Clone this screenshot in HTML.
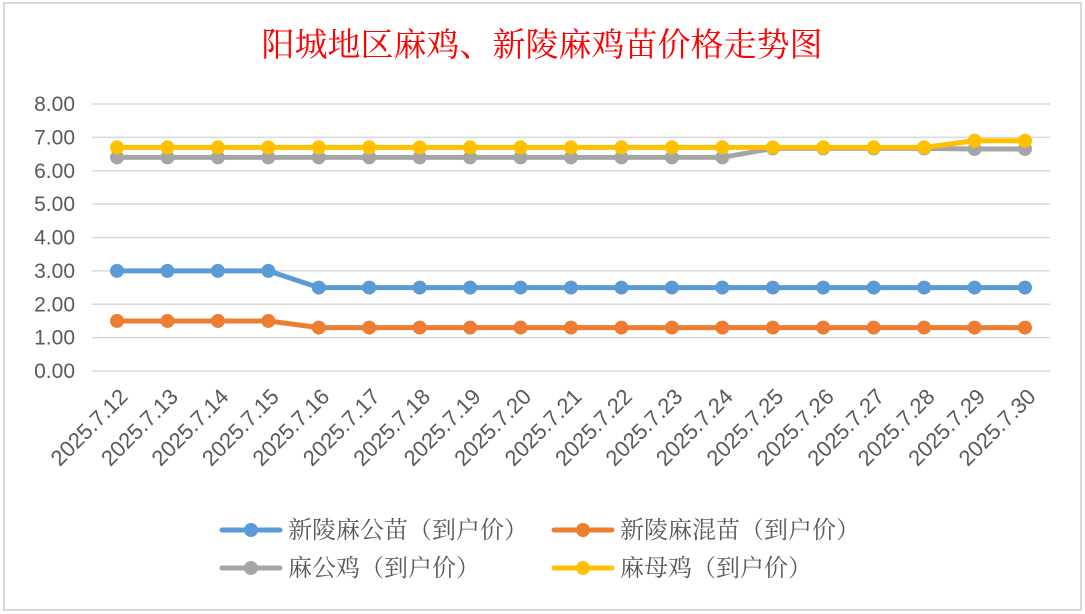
<!DOCTYPE html>
<html><head><meta charset="utf-8"><style>
body{margin:0;background:#fff;}
svg{display:block;}
</style></head><body>
<svg width="1085" height="614" xmlns="http://www.w3.org/2000/svg">
<rect x="4" y="3" width="1077" height="607" fill="#fff" stroke="#d9d9d9" stroke-width="2"/>
<text x="542" y="56" text-anchor="middle" font-family="'Liberation Serif','Noto Serif CJK SC',serif" font-size="33" fill="#ff0000">阳城地区麻鸡、新陵麻鸡苗价格走势图</text>
<g id="grid"></g><g id="yt"></g><g id="xt"></g><g id="series"></g>
<g font-family="'Liberation Serif','Noto Serif CJK SC',serif" font-size="24" fill="#595959">
<g><line x1="222" y1="530" x2="280" y2="530" stroke="#5b9bd5" stroke-width="5" stroke-linecap="round"/><circle cx="251" cy="530" r="7" fill="#5b9bd5"/><text x="288" y="538">新陵麻公苗（到户价）</text></g>
<g><line x1="554" y1="530" x2="612" y2="530" stroke="#ed7d31" stroke-width="5" stroke-linecap="round"/><circle cx="583" cy="530" r="7" fill="#ed7d31"/><text x="620" y="538">新陵麻混苗（到户价）</text></g>
<g><line x1="222" y1="568" x2="280" y2="568" stroke="#a5a5a5" stroke-width="5" stroke-linecap="round"/><circle cx="251" cy="568" r="7" fill="#a5a5a5"/><text x="288" y="576">麻公鸡（到户价）</text></g>
<g><line x1="554" y1="568" x2="612" y2="568" stroke="#ffc000" stroke-width="5" stroke-linecap="round"/><circle cx="583" cy="568" r="7" fill="#ffc000"/><text x="620" y="576">麻母鸡（到户价）</text></g>
</g>
</svg>
<script>
const categories=["2025.7.12","2025.7.13","2025.7.14","2025.7.15","2025.7.16","2025.7.17","2025.7.18","2025.7.19","2025.7.20","2025.7.21","2025.7.22","2025.7.23","2025.7.24","2025.7.25","2025.7.26","2025.7.27","2025.7.28","2025.7.29","2025.7.30"];
const blueVals=[3,3,3,3,2.5,2.5,2.5,2.5,2.5,2.5,2.5,2.5,2.5,2.5,2.5,2.5,2.5,2.5,2.5];
const orangeVals=[1.5,1.5,1.5,1.5,1.3,1.3,1.3,1.3,1.3,1.3,1.3,1.3,1.3,1.3,1.3,1.3,1.3,1.3,1.3];
const grayVals=[6.4,6.4,6.4,6.4,6.4,6.4,6.4,6.4,6.4,6.4,6.4,6.4,6.4,6.67,6.67,6.67,6.67,6.65,6.65];
const yellowVals=[6.7,6.7,6.7,6.7,6.7,6.7,6.7,6.7,6.7,6.7,6.7,6.7,6.7,6.7,6.7,6.7,6.7,6.9,6.9];
const yTicks=[0,1,2,3,4,5,6,7,8];
const NS="http://www.w3.org/2000/svg";
const x=i=>117+i*(1025-117)/(categories.length-1);
const y=v=>371-v*(371-104)/8;
function mk(t,a,p){const e=document.createElementNS(NS,t);for(const k in a)e.setAttribute(k,a[k]);p.appendChild(e);return e;}
const grid=document.getElementById('grid'),yt=document.getElementById('yt'),xt=document.getElementById('xt'),ser=document.getElementById('series');
yTicks.forEach(v=>{
 const l=mk('line',{x1:92,x2:1050,y1:y(v),y2:y(v),stroke:'#d9d9d9','stroke-width':1.5},grid);
 
 
 const t=mk('text',{x:75,y:y(v)+7,'text-anchor':'end','font-family':'Liberation Sans, sans-serif','font-size':21,fill:'#595959'},yt);
 t.textContent=v.toFixed(2);
 
 
});
categories.forEach((c,i)=>{
 const t=mk('text',{transform:`translate(${x(i)+12},398) rotate(-45)`,'text-anchor':'end','font-family':'Liberation Sans, sans-serif','font-size':22,fill:'#595959'},xt);
 t.textContent=c;
 
 
});
[[grayVals,'#a5a5a5','series-gray'],[yellowVals,'#ffc000','series-yellow'],[blueVals,'#5b9bd5','series-blue'],[orangeVals,'#ed7d31','series-orange']].forEach(([vals,col,name])=>{
 const g=mk('g',{},ser);
 
 
 const p=mk('polyline',{points:vals.map((v,i)=>x(i)+','+y(v)).join(' '),fill:'none',stroke:col,'stroke-width':5,'stroke-linejoin':'round'},g);
 
 
 vals.forEach((v,i)=>{
  const c=mk('circle',{cx:x(i),cy:y(v),r:7,fill:col},g);
  
  
 });
});
</script>
</body></html>
